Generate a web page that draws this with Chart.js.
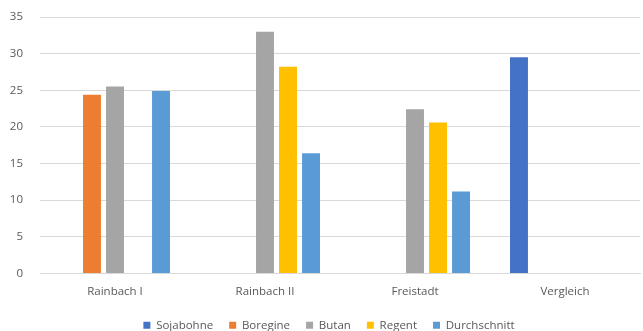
<!DOCTYPE html>
<html lang="de">
<head>
  <meta charset="UTF-8">
  <title>Vergleich</title>
  <script src="https://cdn.jsdelivr.net/npm/chart.js"></script>
  <style>
    html, body { margin: 0; padding: 0; background: #fff; }
    #wrap { width: 643px; height: 331px; }
  </style>
</head>
<body>
  <div id="wrap"><canvas id="chart" width="643" height="331"></canvas></div>

  <script>
    const categories = ['Rainbach I', 'Rainbach II', 'Freistadt', 'Vergleich'];
    const sojabohne    = [null, null, null, 29.5];
    const boregine     = [24.4, null, null, null];
    const butan        = [25.5, 33.0, 22.4, null];
    const regent       = [null, 28.2, 20.6, null];
    const durchschnitt = [24.9, 16.4, 11.2, null];
    const yTicks = [0, 5, 10, 15, 20, 25, 30, 35];

    const txt = '#595959';
    Chart.defaults.font.family = "'Open Sans', sans-serif";
    Chart.defaults.font.size = 11;
    Chart.defaults.color = txt;

    function ds(label, data, color) {
      return { label: label, data: data, backgroundColor: color, borderWidth: 0,
               categoryPercentage: 0.767, barPercentage: 0.78 };
    }

    const chart = new Chart(document.getElementById('chart'), {
      type: 'bar',
      data: {
        labels: categories,
        datasets: [
          ds('Sojabohne', sojabohne, '#4472C4'),
          ds('Boregine', boregine, '#ED7D31'),
          ds('Butan', butan, '#A5A5A5'),
          ds('Regent', regent, '#FFC000'),
          ds('Durchschnitt', durchschnitt, '#5B9BD5')
        ]
      },
      options: {
        responsive: false,
        animation: false,
        layout: { padding: { top: 17, right: 3, left: 0, bottom: -10 } },
        plugins: {
          tooltip: { enabled: false },
          legend: {
            position: 'bottom',
            labels: { boxWidth: 7, boxHeight: 7, padding: 16, color: txt, font: { size: 11.5 } }
          }
        },
        scales: {
          x: {
            grid: { display: false, drawTicks: false },
            border: { display: true, color: '#D9D9D9' },
            ticks: { padding: 11, color: txt, font: { size: 11.5 } },
            afterFit: (s) => { s.height = 30; }
          },
          y: {
            min: 0, max: 35,
            afterBuildTicks: (s) => { s.ticks = yTicks.map(v => ({ value: v })); },
            grid: { color: '#D9D9D9', drawTicks: false },
            border: { display: false },
            ticks: { padding: 17, color: txt, font: { size: 11.5 } },
            afterFit: (s) => { s.width = 40; s.paddingTop = 0; s.paddingBottom = 0; }
          }
        }
      }
    });

    // the legend in the original sits a bit right of centre
    const legendDraw = chart.legend.draw.bind(chart.legend);
    chart.legend.draw = function (area) {
      chart.ctx.save();
      chart.ctx.translate(9, 0);
      legendDraw(area);
      chart.ctx.restore();
    };
    chart.draw();
  </script>
</body>
</html>
